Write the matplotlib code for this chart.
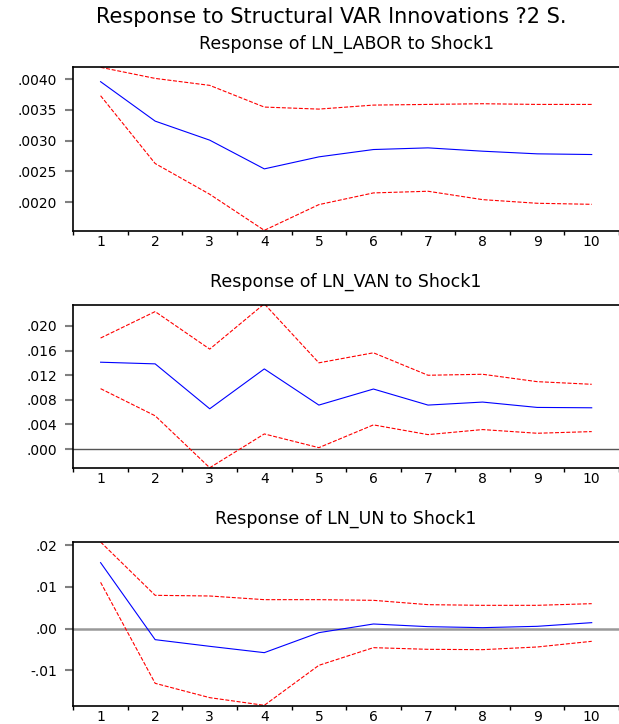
import matplotlib
matplotlib.use('Agg')
import matplotlib.pyplot as plt

# Impulse responses (periods 1..10) with +/- 2 S.E. bands
periods = list(range(1, 11))

labor_resp = [0.003957, 0.003317, 0.003008, 0.002542, 0.002737, 0.002856, 0.002883, 0.002829, 0.002786, 0.002775]
labor_upper = [0.00419, 0.00401, 0.003897, 0.003545, 0.003512, 0.003577, 0.003588, 0.003599, 0.003588, 0.003588]
labor_lower = [0.003729, 0.002629, 0.00213, 0.001545, 0.001962, 0.002152, 0.002179, 0.002043, 0.001984, 0.001967]

van_resp = [0.01411, 0.01384, 0.00654, 0.01302, 0.00714, 0.00975, 0.00714, 0.00763, 0.00676, 0.0067]
van_upper = [0.01804, 0.02234, 0.01624, 0.0236, 0.01401, 0.01564, 0.01199, 0.01215, 0.01095, 0.01052]
van_lower = [0.00981, 0.0054, -0.00305, 0.00245, 0.00022, 0.00392, 0.00234, 0.00316, 0.00256, 0.00283]

un_resp = [0.01584, -0.00264, -0.00424, -0.00576, -0.00096, 0.00112, 0.00048, 0.00024, 0.00056, 0.00144]
un_upper = [0.0208, 0.008, 0.00784, 0.00696, 0.00696, 0.0068, 0.00576, 0.0056, 0.0056, 0.006]
un_lower = [0.01112, -0.01312, -0.01656, -0.0184, -0.0088, -0.00456, -0.00496, -0.00504, -0.0044, -0.00304]

titles = ["Response of LN_LABOR to Shock1", "Response of LN_VAN to Shock1", "Response of LN_UN to Shock1"]
labor_ticks = [0.0020, 0.0025, 0.0030, 0.0035, 0.0040]
labor_ticklabels = [".0020", ".0025", ".0030", ".0035", ".0040"]
van_ticks = [0.000, 0.004, 0.008, 0.012, 0.016, 0.020]
van_ticklabels = [".000", ".004", ".008", ".012", ".016", ".020"]
un_ticks = [-0.01, 0.00, 0.01, 0.02]
un_ticklabels = ["-.01", ".00", ".01", ".02"]

plt.rcParams['font.family'] = ['DejaVu Sans']

W, H = 619, 724
fig = plt.figure(figsize=(W / 100, H / 100), dpi=100)
fig.text(331 / W, 1 - 22.7 / H, "Response to Structural VAR Innovations ?2 S.",
         ha='center', va='baseline', fontsize=15)

# (top px, bottom px, ylim, zero line style)
panels = [
    (labor_resp, labor_upper, labor_lower, titles[0], labor_ticks, labor_ticklabels,
     66.7, 231.0, (0.001534, 0.0042), None),
    (van_resp, van_upper, van_lower, titles[1], van_ticks, van_ticklabels,
     304.7, 467.7, (-0.00304, 0.02346), ('#555555', 1.0)),
    (un_resp, un_upper, un_lower, titles[2], un_ticks, un_ticklabels,
     541.7, 705.7, (-0.01849, 0.02087), ('#999999', 1.8)),
]

left_px = 73.3
for resp, upper, lower, title, yt, ytl, top, bot, ylim, zero in panels:
    ax = fig.add_axes([left_px / W, 1 - bot / H, (W - left_px) / W, (bot - top) / H])
    if zero is not None:
        ax.axhline(0, color=zero[0], lw=zero[1], zorder=1)
    ax.plot(periods, upper, color='#ff0000', lw=0.8, dashes=(3.6, 1.5), zorder=2)
    ax.plot(periods, lower, color='#ff0000', lw=0.8, dashes=(3.6, 1.5), zorder=2)
    ax.plot(periods, resp, color='#0000ff', lw=0.8, zorder=3)

    ax.set_xlim(0.5, 10.5)
    ax.set_ylim(*ylim)
    ax.set_title(title, fontsize=12.5, pad=13)

    # ticks between periods, labels centred on periods
    ax.set_xticks([p - 0.5 for p in periods] + [10.5])
    ax.set_xticklabels([])
    ax.set_xticks(periods, minor=True)
    ax.set_xticklabels([str(p) for p in periods], minor=True)
    ax.tick_params(axis='x', which='major', length=3, width=1, direction='out')
    ax.tick_params(axis='x', which='minor', length=0, pad=3, labelsize=10)

    ax.set_yticks(yt)
    ax.set_yticklabels(ytl)
    ax.tick_params(axis='y', length=6, width=1.5, color='#808080', pad=5.5, labelsize=10)

    ax.spines['right'].set_visible(False)
    for side in ['left', 'top', 'bottom']:
        ax.spines[side].set_linewidth(1.2)

fig.savefig('out.png', dpi=100)
